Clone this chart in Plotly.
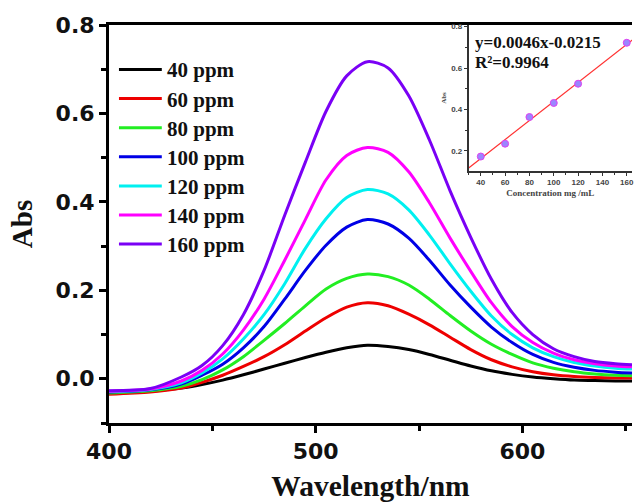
import plotly.graph_objects as go

# ---------------- data ----------------
wavelength = [400, 420, 435, 445, 455, 465, 475, 485, 495, 505, 515, 525, 535,
              545, 555, 565, 575, 585, 595, 605, 615, 625, 635, 645, 653]

abs_40 = [-0.033, -0.028, -0.021, -0.013, -0.003, 0.009, 0.022, 0.035, 0.048, 0.060, 0.070, 0.076, 0.073,
          0.066, 0.055, 0.042, 0.029, 0.018, 0.010, 0.004, 0.000, -0.003, -0.004, -0.005, -0.005]
abs_60 = [-0.035, -0.030, -0.021, -0.008, 0.008, 0.028, 0.050, 0.077, 0.108, 0.138, 0.162, 0.172, 0.165,
          0.146, 0.122, 0.094, 0.066, 0.043, 0.027, 0.016, 0.009, 0.005, 0.003, 0.002, 0.002]
abs_80 = [-0.032, -0.027, -0.017, -0.002, 0.020, 0.050, 0.087, 0.125, 0.165, 0.203, 0.227, 0.237, 0.231,
          0.212, 0.180, 0.143, 0.108, 0.078, 0.055, 0.036, 0.024, 0.016, 0.011, 0.008, 0.007]
abs_100 = [-0.030, -0.025, -0.012, 0.008, 0.033, 0.070, 0.118, 0.180, 0.245, 0.302, 0.343, 0.360, 0.350,
           0.318, 0.268, 0.212, 0.162, 0.117, 0.082, 0.055, 0.037, 0.026, 0.019, 0.015, 0.013]
abs_120 = [-0.029, -0.024, -0.009, 0.013, 0.045, 0.090, 0.145, 0.215, 0.295, 0.362, 0.410, 0.428, 0.418,
           0.382, 0.325, 0.260, 0.198, 0.142, 0.100, 0.070, 0.050, 0.037, 0.029, 0.024, 0.022]
abs_140 = [-0.028, -0.023, -0.005, 0.019, 0.056, 0.110, 0.180, 0.268, 0.360, 0.450, 0.505, 0.523, 0.512,
           0.468, 0.398, 0.318, 0.243, 0.172, 0.118, 0.082, 0.058, 0.043, 0.034, 0.029, 0.027]
abs_160 = [-0.027, -0.022, 0.004, 0.030, 0.075, 0.145, 0.245, 0.370, 0.490, 0.605, 0.685, 0.717, 0.703,
           0.640, 0.540, 0.425, 0.320, 0.225, 0.150, 0.100, 0.068, 0.050, 0.039, 0.034, 0.032]

series_names = ["40 ppm", "60 ppm", "80 ppm", "100 ppm", "120 ppm", "140 ppm", "160 ppm"]
series_values = [abs_40, abs_60, abs_80, abs_100, abs_120, abs_140, abs_160]
series_colors = ["#000000", "#ee0000", "#22ee22", "#0000e6", "#00f0f0", "#ff00ff", "#7a00f5"]

# inset calibration data
conc = [40, 60, 80, 100, 120, 160]
conc_abs = [0.172, 0.234, 0.363, 0.431, 0.524, 0.722]
fit_slope = 0.0046
fit_intercept = -0.0215
fit_x = [30, 165]
inset_xticks = [40, 60, 80, 100, 120, 140, 160]
inset_yticks = [0.2, 0.4, 0.6, 0.8]

xticks_main = [400, 500, 600]
yticks_main = [0.0, 0.2, 0.4, 0.6, 0.8]

# ---------------- figure ----------------
fig = go.Figure()

for name, vals, col in zip(series_names, series_values, series_colors):
    fig.add_trace(go.Scatter(x=wavelength, y=vals, mode="lines", name=name,
                             line=dict(color=col, width=3, shape="spline", smoothing=0.8),
                             showlegend=False, xaxis="x", yaxis="y"))

fit_y = [fit_slope * v + fit_intercept for v in fit_x]
fig.add_trace(go.Scatter(x=fit_x, y=fit_y, mode="lines", line=dict(color="#ff3030", width=1.2),
                         showlegend=False, xaxis="x2", yaxis="y2"))
fig.add_trace(go.Scatter(x=conc, y=conc_abs, mode="markers",
                         marker=dict(size=7, color="#9a86ff", line=dict(color="#e040f0", width=1)),
                         showlegend=False, xaxis="x2", yaxis="y2"))

serif = "Liberation Serif, Times New Roman, serif"
sans = "DejaVu Sans, Arial, sans-serif"
sans_small = "Liberation Sans, Arial, sans-serif"

# manual legend (line sample + text)
shapes = []
annotations = []
leg_top = 69.5
leg_step = 29.1
plot_l, plot_r, plot_t, plot_b = 109, 634, 25, 423
pw, ph = plot_r - plot_l, plot_b - plot_t

def px(xp):
    return (xp - plot_l) / pw

def py(yp):
    return (plot_b - yp) / ph

for i, (name, col) in enumerate(zip(series_names, series_colors)):
    yy = leg_top + i * leg_step
    shapes.append(dict(type="line", xref="paper", yref="paper", x0=px(119), x1=px(162),
                       y0=py(yy), y1=py(yy), line=dict(color=col, width=3)))
    annotations.append(dict(xref="paper", yref="paper", x=px(165), y=py(yy + 1), text=name,
                            showarrow=False, xanchor="left", yanchor="middle",
                            font=dict(family=serif, size=21, color="#111", weight="bold")))

annotations.append(dict(xref="paper", yref="paper", x=px(474), y=py(42), text="y=0.0046x-0.0215",
                        showarrow=False, xanchor="left", yanchor="middle",
                        font=dict(family=serif, size=17, color="#111", weight="bold")))
annotations.append(dict(xref="paper", yref="paper", x=px(474), y=py(63), text="R²=0.9964",
                        showarrow=False, xanchor="left", yanchor="middle",
                        font=dict(family=serif, size=17, color="#111", weight="bold")))

inset_l, inset_b, inset_t = 470, 171, 25

fig.update_layout(
    width=634, height=503,
    margin=dict(l=plot_l, r=0, t=plot_t, b=503 - plot_b),
    paper_bgcolor="white", plot_bgcolor="rgba(0,0,0,0)",
    shapes=shapes, annotations=annotations,
    xaxis=dict(domain=[0, 1], range=[400, 653], tickvals=xticks_main, ticks="outside",
               ticklen=7, tickwidth=3, tickcolor="black", showline=True, linewidth=3,
               linecolor="black", mirror=True, showgrid=False, zeroline=False,
               minor=dict(dtick=50, tick0=400, ticks="outside", ticklen=5, tickwidth=3,
                          tickcolor="black", showgrid=False),
               tickfont=dict(family=sans, size=22, color="#111", weight="bold"),
               title=dict(text="Wavelength/nm", standoff=12,
                          font=dict(family=serif, size=29.5, color="#111", weight="bold"))),
    yaxis=dict(domain=[0, 1], range=[-0.1, 0.8], tickvals=yticks_main, tickformat=".1f",
               ticks="outside", ticklen=7, tickwidth=3, tickcolor="black", showline=True,
               linewidth=3, linecolor="black", mirror=False, showgrid=False, zeroline=False,
               minor=dict(dtick=0.1, tick0=0, ticks="outside", ticklen=5, tickwidth=3,
                          tickcolor="black", showgrid=False),
               tickfont=dict(family=sans, size=22, color="#111", weight="bold"),
               title=dict(text="Abs", standoff=15,
                          font=dict(family=serif, size=29, color="#111", weight="bold"))),
    xaxis2=dict(domain=[px(inset_l), 1], anchor="y2", range=[30, 164.3],
                tickvals=inset_xticks, ticks="outside", ticklen=3, ticklabeloverflow="allow",
                tickwidth=1, tickcolor="#333", showline=True, linewidth=1.5, linecolor="#333",
                showgrid=False, zeroline=False,
                minor=dict(dtick=10, tick0=30, ticks="outside", ticklen=2, tickwidth=1,
                           tickcolor="#333", showgrid=False),
                tickfont=dict(family=sans_small, size=8, color="#444", weight="bold"),
                title=dict(text="Concentration mg /mL", standoff=3,
                           font=dict(family=serif, size=9, color="#444", weight="bold"))),
    yaxis2=dict(domain=[py(inset_b), 1], anchor="x2", range=[0.102, 0.808],
                tickvals=inset_yticks, tickformat=".1f", ticks="outside", ticklen=3,
                ticklabeloverflow="allow",
                tickwidth=1, tickcolor="#333", showline=True, linewidth=1.5, linecolor="#333",
                showgrid=False, zeroline=False,
                minor=dict(dtick=0.1, tick0=0, ticks="outside", ticklen=2, tickwidth=1,
                           tickcolor="#333", showgrid=False),
                tickfont=dict(family=sans_small, size=8, color="#444", weight="bold"),
                title=dict(text="Abs", standoff=4,
                           font=dict(family=serif, size=7, color="#444", weight="bold"))),
)

fig.write_html("out.html")
